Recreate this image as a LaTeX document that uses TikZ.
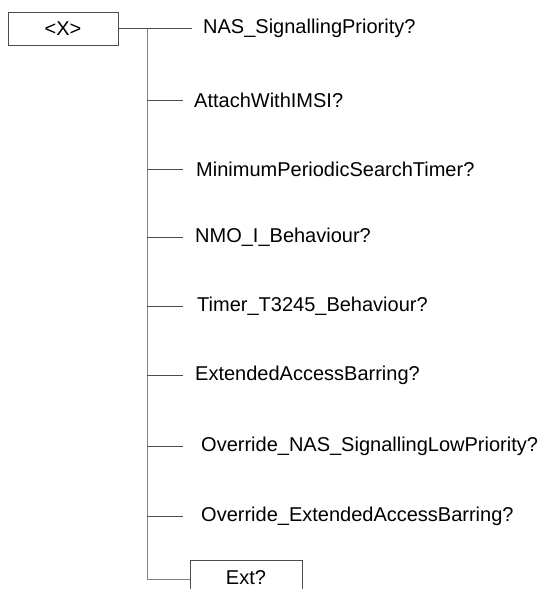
\documentclass[tikz,border=0pt]{standalone}
\usepackage{fontspec}
\setmainfont{Liberation Sans}
\usetikzlibrary{positioning}

\definecolor{trunkgray}{gray}{0.5}
\definecolor{boxgray}{gray}{0.3}

\tikzset{
    elem/.style={inner sep=0pt, font=\fontsize{20}{23}\selectfont},
    box/.style={draw=boxgray, line width=1pt, inner sep=0pt, font=\fontsize{20}{23}\selectfont},
    link/.style={draw=boxgray, line width=1pt},
    trunk/.style={draw=trunkgray, line width=1pt}
}

\begin{document}
\begin{tikzpicture}[x=1pt,y=-1pt]
    \useasboundingbox (0,0) rectangle (552,589);
    \clip (0,0) rectangle (552,589);

    % root element
    \node[box, minimum width=110pt, minimum height=33pt] (x) at (63,28.5) {<X>};

    % junctions on the trunk
    \coordinate (j0) at (147,28.5);
    \coordinate (j1) at (147,100);
    \coordinate (j2) at (147,169);
    \coordinate (j3) at (147,237);
    \coordinate (j4) at (147,306);
    \coordinate (j5) at (147,375);
    \coordinate (j6) at (147,446);
    \coordinate (j7) at (147,516);
    \coordinate (j8) at (147,579);

    % ends of the branches
    \coordinate (e0) at (192,28.5);
    \coordinate (e1) at (183,100);
    \coordinate (e2) at (183,169);
    \coordinate (e3) at (183,237);
    \coordinate (e4) at (183,306);
    \coordinate (e5) at (183,375);
    \coordinate (e6) at (183,446);
    \coordinate (e7) at (183,516);

    \node[elem, right=11pt of e0] (nas) {NAS\_SignallingPriority?};
    \node[elem, right=11pt of e1] (attach) {AttachWithIMSI?};
    \node[elem, right=13pt of e2] (minsearch) {MinimumPeriodicSearchTimer?};
    \node[elem, right=12pt of e3] (nmo) {NMO\_I\_Behaviour?};
    \node[elem, right=14pt of e4] (timer) {Timer\_T3245\_Behaviour?};
    \node[elem, right=12pt of e5] (eab) {ExtendedAccessBarring?};
    \node[elem, right=18pt of e6] (ovnas) {Override\_NAS\_SignallingLowPriority?};
    \node[elem, right=18pt of e7] (oveab) {Override\_ExtendedAccessBarring?};

    % extension box, cut by the lower edge
    \node[box, minimum width=112pt, minimum height=60pt, anchor=north] (extbox) at (246,560) {};
    \node[elem] (ext) at (246,578) {Ext?};

    \draw[trunk] (j0) -- (j8) -- (j8 -| extbox.west);
    \draw[link] (x) -- (e0);
    \draw[link] (j1) -- (e1);
    \draw[link] (j2) -- (e2);
    \draw[link] (j3) -- (e3);
    \draw[link] (j4) -- (e4);
    \draw[link] (j5) -- (e5);
    \draw[link] (j6) -- (e6);
    \draw[link] (j7) -- (e7);
\end{tikzpicture}
\end{document}
